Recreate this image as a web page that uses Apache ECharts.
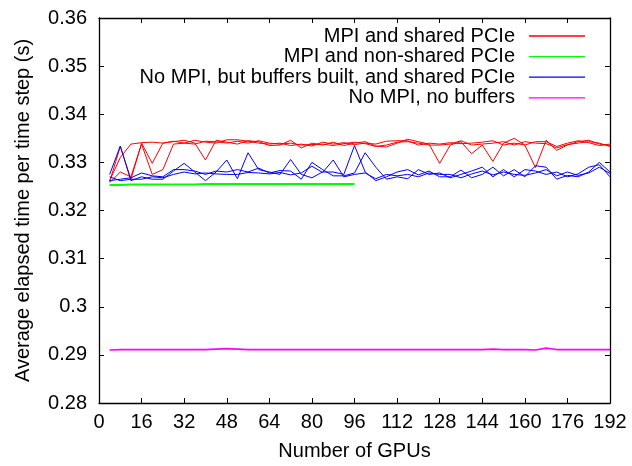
<!DOCTYPE html>
<html>
<head>
<meta charset="utf-8">
<script src="https://cdn.jsdelivr.net/npm/echarts@6/dist/echarts.min.js"></script>
<style>
  html, body { margin: 0; padding: 0; background: #fff; }
  #main { width: 632px; height: 466px; }
</style>
</head>
<body>
<div id="main"></div>
<script>
// x values (number of GPUs)
const gpuCounts = [4, 8, 12, 16, 20, 24, 28, 32, 36, 40, 44, 48, 52, 56, 60, 64,
  68, 72, 76, 80, 84, 88, 92, 96, 100, 104, 108, 112, 116, 120, 124, 128,
  132, 136, 140, 144, 148, 152, 156, 160, 164, 168, 172, 176, 180, 184, 188, 192];

// MPI and shared PCIe (three runs)
const mpiSharedRun1 = [0.3260, 0.3333, 0.3265, 0.3340, 0.3298, 0.3340, 0.3343, 0.3346, 0.3340, 0.3305, 0.3346, 0.3342, 0.3338, 0.3345, 0.3343, 0.3335,
  0.3336, 0.3346, 0.3330, 0.3340, 0.3336, 0.3342, 0.3335, 0.3340, 0.3343, 0.3334, 0.3332, 0.3340, 0.3348, 0.3343, 0.3338, 0.3298,
  0.3336, 0.3343, 0.3318, 0.3336, 0.3302, 0.3340, 0.3350, 0.3336, 0.3343, 0.3343, 0.3333, 0.3340, 0.3345, 0.3341, 0.3335, 0.3338];
const mpiSharedRun2 = [0.3262, 0.3310, 0.3338, 0.3341, 0.3342, 0.3340, 0.3344, 0.3340, 0.3346, 0.3342, 0.3340, 0.3347, 0.3347, 0.3344, 0.3340, 0.3338,
  0.3340, 0.3335, 0.3338, 0.3334, 0.3342, 0.3338, 0.3341, 0.3337, 0.3340, 0.3338, 0.3344, 0.3345, 0.3345, 0.3336, 0.3340, 0.3338,
  0.3341, 0.3339, 0.3340, 0.3342, 0.3345, 0.3336, 0.3340, 0.3336, 0.3289, 0.3346, 0.3325, 0.3336, 0.3343, 0.3346, 0.3338, 0.3335];
const mpiSharedRun3 = [0.3258, 0.3280, 0.3270, 0.3338, 0.3275, 0.3285, 0.3338, 0.3340, 0.3338, 0.3344, 0.3343, 0.3340, 0.3344, 0.3340, 0.3345, 0.3340,
  0.3338, 0.3340, 0.3336, 0.3337, 0.3338, 0.3335, 0.3339, 0.3342, 0.3339, 0.3333, 0.3336, 0.3342, 0.3343, 0.3340, 0.3336, 0.3336,
  0.3338, 0.3345, 0.3336, 0.3338, 0.3340, 0.3343, 0.3336, 0.3343, 0.3340, 0.3339, 0.3330, 0.3337, 0.3340, 0.3343, 0.3340, 0.3333];

// MPI and non-shared PCIe (up to 96 GPUs)
const mpiNonShared = [0.3253, 0.3253, 0.3254, 0.3254, 0.3254, 0.3254, 0.3254, 0.3254, 0.3254, 0.3255, 0.3255, 0.3255,
  0.3255, 0.3255, 0.3255, 0.3255, 0.3255, 0.3255, 0.3255, 0.3255, 0.3255, 0.3255, 0.3255, 0.3255];

// No MPI, buffers built, shared PCIe (three runs)
const buffersRun1 = [0.3275, 0.3334, 0.3262, 0.3270, 0.3265, 0.3265, 0.3282, 0.3298, 0.3280, 0.3262, 0.3280, 0.3305, 0.3266, 0.3320, 0.3285, 0.3280,
  0.3275, 0.3306, 0.3275, 0.3268, 0.3280, 0.3280, 0.3275, 0.3335, 0.3280, 0.3262, 0.3270, 0.3280, 0.3285, 0.3274, 0.3282, 0.3270,
  0.3270, 0.3284, 0.3268, 0.3275, 0.3290, 0.3272, 0.3285, 0.3270, 0.3293, 0.3290, 0.3265, 0.3273, 0.3270, 0.3280, 0.3300, 0.3280];
const buffersRun2 = [0.3262, 0.3265, 0.3268, 0.3278, 0.3272, 0.3270, 0.3285, 0.3285, 0.3282, 0.3275, 0.3282, 0.3280, 0.3285, 0.3280, 0.3288, 0.3278,
  0.3283, 0.3282, 0.3265, 0.3300, 0.3285, 0.3272, 0.3272, 0.3278, 0.3320, 0.3290, 0.3265, 0.3270, 0.3266, 0.3285, 0.3275, 0.3278,
  0.3268, 0.3275, 0.3282, 0.3290, 0.3270, 0.3285, 0.3270, 0.3285, 0.3282, 0.3275, 0.3280, 0.3270, 0.3276, 0.3290, 0.3295, 0.3270];
const buffersRun3 = [0.3270, 0.3262, 0.3265, 0.3265, 0.3270, 0.3268, 0.3275, 0.3280, 0.3276, 0.3278, 0.3276, 0.3275, 0.3275, 0.3279, 0.3278, 0.3276,
  0.3279, 0.3274, 0.3278, 0.3292, 0.3279, 0.3305, 0.3270, 0.3275, 0.3278, 0.3266, 0.3275, 0.3272, 0.3275, 0.3270, 0.3278, 0.3275,
  0.3275, 0.3268, 0.3276, 0.3282, 0.3274, 0.3280, 0.3275, 0.3273, 0.3278, 0.3285, 0.3272, 0.3280, 0.3273, 0.3278, 0.3290, 0.3277];

// No MPI, no buffers
const noMpiNoBuffers = [0.2910, 0.2911, 0.2911, 0.2911, 0.2911, 0.2911, 0.2911, 0.2911, 0.2911, 0.2911, 0.2912, 0.2913, 0.2912, 0.2911, 0.2911, 0.2911,
  0.2911, 0.2911, 0.2911, 0.2911, 0.2911, 0.2911, 0.2911, 0.2911, 0.2911, 0.2911, 0.2911, 0.2911, 0.2911, 0.2911, 0.2911, 0.2911,
  0.2911, 0.2911, 0.2911, 0.2911, 0.2912, 0.2911, 0.2911, 0.2911, 0.2910, 0.2914, 0.2911, 0.2911, 0.2911, 0.2911, 0.2911, 0.2911];

const legendNames = ['MPI and shared PCIe', 'MPI and non-shared PCIe',
  'No MPI, but buffers built, and shared PCIe', 'No MPI, no buffers'];

const FONT = '"Liberation Sans", Arial, sans-serif';
const FS = 20;

function pairs(ys) {
  return ys.map((y, i) => [gpuCounts[i], y]);
}

function lineSeries(name, ys, color, width) {
  return {
    name: name,
    type: 'line',
    data: pairs(ys),
    symbol: 'none',
    smooth: false,
    lineStyle: { color: color, width: width },
    itemStyle: { color: color },
    emphasis: { disabled: true },
    z: 3
  };
}

const chart = echarts.init(document.getElementById('main'), null, { renderer: 'canvas' });

// gnuplot style: inward ticks on all four sides
const axisBase = {
  type: 'value',
  axisLine: { show: true, onZero: false, lineStyle: { color: '#000', width: 1.3 } },
  axisTick: { show: true, inside: true, length: 5, lineStyle: { color: '#000', width: 1 } },
  splitLine: { show: false }
};

const option = {
  animation: false,
  backgroundColor: '#fff',
  grid: { left: 99, right: 22, top: 18, bottom: 63 },
  legend: {
    data: legendNames,
    orient: 'vertical',
    right: 42,
    top: 21,
    align: 'right',
    icon: 'rect',
    itemWidth: 56,
    itemHeight: 1.3,
    itemGap: 0.6,
    selectedMode: false,
    textStyle: { fontFamily: FONT, fontSize: FS, color: '#000', lineHeight: 20, padding: [0, 9, 0, 0] }
  },
  xAxis: [
    Object.assign({}, axisBase, {
      min: 0, max: 192, interval: 16,
      name: 'Number of GPUs',
      nameLocation: 'middle',
      nameGap: 38,
      nameTextStyle: { fontFamily: FONT, fontSize: FS, color: '#000' },
      axisLabel: { fontFamily: FONT, fontSize: FS, color: '#000', margin: 9 }
    }),
    Object.assign({}, axisBase, {
      position: 'top', min: 0, max: 192, interval: 16,
      axisLabel: { show: false }
    })
  ],
  yAxis: [
    Object.assign({}, axisBase, {
      min: 0.28, max: 0.36, interval: 0.01,
      name: 'Average elapsed time per time step (s)',
      nameLocation: 'middle',
      nameGap: 66,
      nameTextStyle: { fontFamily: FONT, fontSize: FS, color: '#000' },
      axisLabel: { fontFamily: FONT, fontSize: FS, color: '#000', margin: 12 }
    }),
    Object.assign({}, axisBase, {
      position: 'right', min: 0.28, max: 0.36, interval: 0.01,
      axisLabel: { show: false }
    })
  ],
  series: [
    lineSeries(legendNames[0], mpiSharedRun1, '#ff0000', 1),
    lineSeries(legendNames[0], mpiSharedRun2, '#ff0000', 1),
    lineSeries(legendNames[0], mpiSharedRun3, '#ff0000', 1),
    lineSeries(legendNames[1], mpiNonShared, '#00ff00', 2),
    lineSeries(legendNames[2], buffersRun1, '#0000ff', 1),
    lineSeries(legendNames[2], buffersRun2, '#0000ff', 1),
    lineSeries(legendNames[2], buffersRun3, '#0000ff', 1),
    lineSeries(legendNames[3], noMpiNoBuffers, '#ff00ff', 1.6)
  ]
};

chart.setOption(option);
</script>
</body>
</html>
